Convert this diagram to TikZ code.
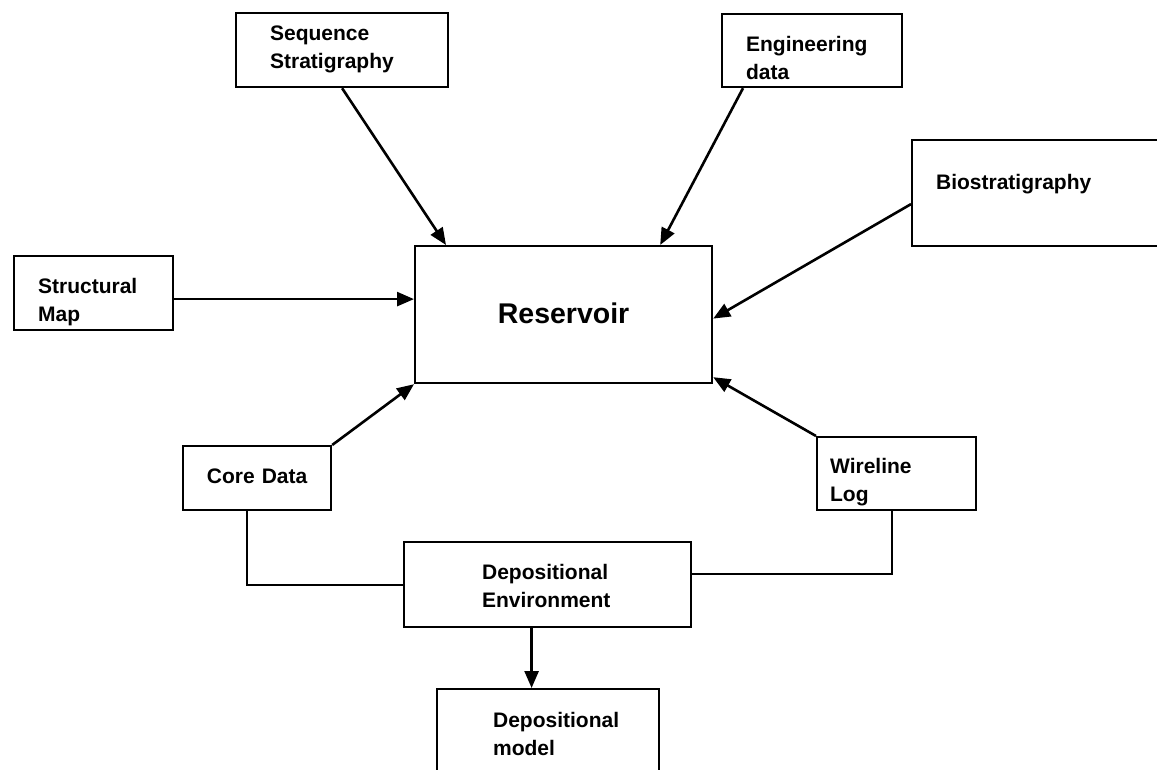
\documentclass[tikz,border=0pt]{standalone}
\usepackage{fontspec}
\setmainfont{Liberation Sans}
\usetikzlibrary{arrows.meta, calc}
\hyphenpenalty=10000

\begin{document}
\begin{tikzpicture}[
    x=1pt, y=-1pt,
    >={Triangle[length=17pt,width=14pt]},
    every node/.style={font=\fontsize{21}{28}\selectfont\bfseries},
    box/.style={draw, line width=2.2pt, rectangle, anchor=north west,
                inner ysep=0pt, align=left},
    link/.style={->, line width=2.6pt},
    joint/.style={line width=2pt},
]
\useasboundingbox (0,0) rectangle (1157,769);
% data sources around the reservoir
\node[box, text width=144pt, inner xsep=34pt, text height=27pt, text depth=47pt]
   (seq) at (235,12) {Sequence\\Stratigraphy};
\node[box, text width=132pt, inner xsep=24pt, text height=37pt, text depth=36pt]
   (eng) at (721,13) {Engineering\\data};
\node[box, text width=211pt, inner xsep=24pt, text height=49pt, text depth=57pt]
   (bio) at (911,139) {Biostratigraphy};
\node[box, text width=111pt, inner xsep=24pt, text height=37pt, text depth=37pt]
   (struct) at (13,255) {Structural\\Map};
\node[box, text width=148pt, inner xsep=0pt, align=center, text height=37pt, text depth=27pt]
   (core) at (182,445) {Core Data};
\node[box, text width=133pt, inner xsep=13pt, text height=36pt, text depth=37pt]
   (wire) at (816,436) {Wireline\\Log};
% the reservoir itself
\node[box, font=\fontsize{28.5}{34}\selectfont\bfseries, text width=297pt, inner xsep=0pt,
      align=center, text height=77pt, text depth=60pt]
   (res) at (414,245) {Reservoir};
% interpretation chain below
\node[box, text width=131pt, inner xsep=78pt, text height=37pt, text depth=48pt]
   (denv) at (403,541) {Depositional\\Environment};
\node[box, text width=110pt, inner xsep=56pt, text height=38pt, text depth=74pt]
   (dmod) at (436,688) {Depositional\\model};
% arrows into the reservoir
\draw[link] (seq.south) -- ([xshift=32pt]res.north west);
\draw[link] ([xshift=22pt]eng.south west) -- ([xshift=-53pt]res.north east);
\draw[link] ([yshift=-11pt]bio.west) -- ([yshift=-4pt]res.east);
\draw[link] ([yshift=-6pt]struct.east) -- ([yshift=-6pt]struct.east -| res.west);
\draw[link] (core.north east) -- (res.south west);
\draw[link] (wire.north west) -- ([yshift=7pt]res.south east);
% core and logs give the environment, which gives the model
\draw[joint] ([xshift=-10pt]core.south) |- (denv.west);
\draw[joint] ([xshift=-5pt]wire.south) |- ([yshift=11pt]denv.east);
\draw[link] ([xshift=-16pt]denv.south) -- ([xshift=-16pt]denv.south |- dmod.north);
\end{tikzpicture}
\end{document}
